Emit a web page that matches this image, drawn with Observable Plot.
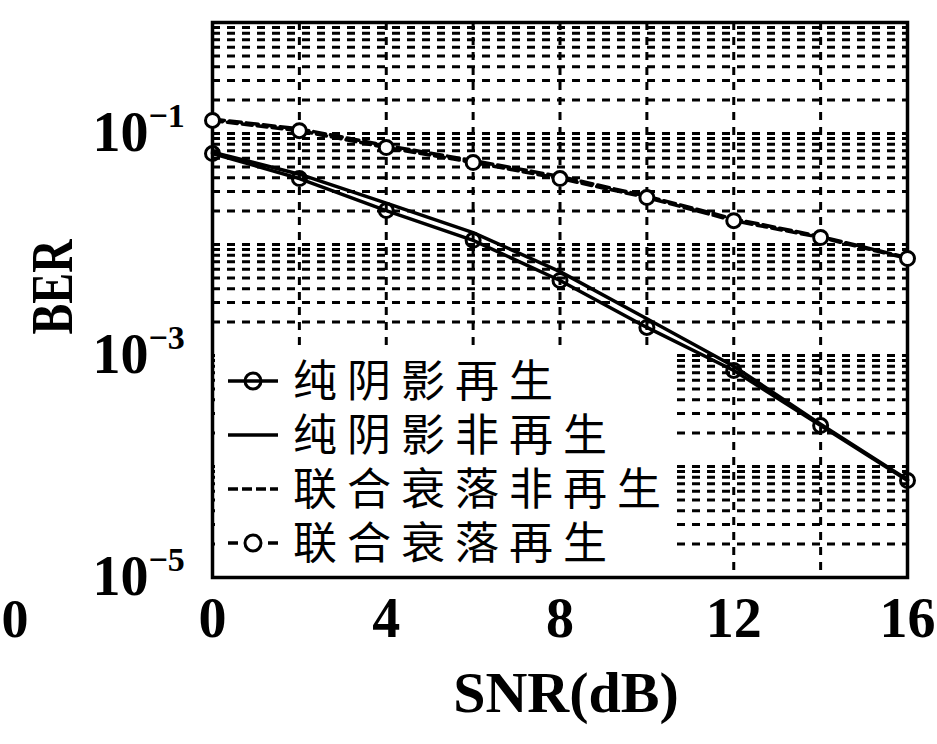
<!DOCTYPE html>
<html>
<head>
<meta charset="utf-8">
<script src="https://cdn.jsdelivr.net/npm/d3@7"></script>
<script src="https://cdn.jsdelivr.net/npm/@observablehq/plot@0.6"></script>
<style>
  html, body { margin: 0; padding: 0; background: #fff; }
  svg { display: block; }
</style>
</head>
<body>
<div id="chart"></div>
<script>
// ---- data ----
const snr = [0, 2, 4, 6, 8, 10, 12, 14, 16];
const berShadowRegen    = [0.066, 0.0393, 0.0202, 0.0109, 0.00474, 0.00179, 0.000733, 0.000234, 0.0000748];
const berShadowNonRegen = [0.068, 0.0430, 0.0236, 0.0128, 0.00570, 0.00214, 0.000800, 0.000240, 0.0000760];
const berFadingNonRegen = [0.135, 0.110, 0.078, 0.0570, 0.0410, 0.0272, 0.0170, 0.0118, 0.0076];
const berFadingRegen    = [0.131, 0.106, 0.0748, 0.0548, 0.0393, 0.0265, 0.0164, 0.01156, 0.00748];
const seriesNames = ["纯阴影再生", "纯阴影非再生", "联合衰落非再生", "联合衰落再生"];
const xTicks = [0, 4, 8, 12, 16];
const xGrid = [2, 4, 6, 8, 10, 12, 14];
const yTicks = [1e-5, 1e-3, 1e-1];
const yTickExponents = ["\u22125", "\u22123", "\u22121"];
const xLabel = "SNR(dB)";
const yLabel = "BER";

const seriesValues = [berShadowRegen, berShadowNonRegen, berFadingNonRegen, berFadingRegen];
const rows = [];
seriesNames.forEach((name, s) => snr.forEach((x, i) => rows.push({series: name, snr: x, ber: seriesValues[s][i]})));
const bySeries = name => rows.filter(r => r.series === name);

const yGrid = d3.scaleLog().domain([1e-5, 1]).ticks();

const serif = "Liberation Serif, Times New Roman, serif";
const black = "#000";

const plot = Plot.plot({
  width: 937,
  height: 744,
  marginLeft: 212,
  marginRight: 30,
  marginTop: 22,
  marginBottom: 167,
  style: {background: "#fff", fontFamily: serif, color: black},
  x: {domain: [0, 16], axis: null},
  y: {type: "log", domain: [1e-5, 1], axis: null},
  marks: [
    Plot.ruleY(yGrid, {y: d => d, stroke: black, strokeWidth: 3, strokeDasharray: "8,7"}),
    Plot.ruleX(xGrid, {x: d => d, stroke: black, strokeWidth: 3, strokeDasharray: "8,7"}),
    Plot.frame({stroke: black, strokeWidth: 3.5}),
    // curves
    Plot.line(bySeries(seriesNames[1]), {x: "snr", y: "ber", stroke: black, strokeWidth: 3.5}),
    Plot.line(bySeries(seriesNames[0]), {x: "snr", y: "ber", stroke: black, strokeWidth: 3.5}),
    Plot.dot(bySeries(seriesNames[0]), {x: "snr", y: "ber", r: 7, stroke: black, strokeWidth: 3, fill: "none"}),
    Plot.line(bySeries(seriesNames[2]), {x: "snr", y: "ber", stroke: black, strokeWidth: 3.5, strokeDasharray: "12,5"}),
    Plot.line(bySeries(seriesNames[3]), {x: "snr", y: "ber", stroke: black, strokeWidth: 3.5, strokeDasharray: "10,5"}),
    Plot.dot(bySeries(seriesNames[3]), {x: "snr", y: "ber", r: 7, stroke: black, strokeWidth: 3, fill: "#fff"}),
    // x tick labels
    Plot.text(xTicks, {x: d => d, frameAnchor: "bottom", dy: 59, text: d => String(d),
      fontSize: 56, fontWeight: "bold", fontFamily: serif, fill: black}),
    // y tick labels: base and superscript exponent
    Plot.text(yTicks, {y: d => d, frameAnchor: "left", dx: -64, textAnchor: "end", text: () => "10",
      fontSize: 56, fontWeight: "bold", fontFamily: serif, fill: black}),
    Plot.text(yTicks, {y: d => d, frameAnchor: "left", dx: -64, dy: -17, textAnchor: "start",
      text: (d, i) => yTickExponents[i], fontSize: 34, fontWeight: "bold", fontFamily: serif, fill: black}),
    // x axis label
    Plot.text([xLabel], {frameAnchor: "bottom", dx: 6, dy: 134, text: d => d,
      fontSize: 58, fontWeight: "bold", fontFamily: serif, fill: black}),
    // fragment of the neighbouring panel's tick label at the left edge
    Plot.text(["0"], {frameAnchor: "bottom-left", dx: -211, dy: 59, textAnchor: "start", text: d => d,
      fontSize: 54, fontWeight: "bold", fontFamily: serif, fill: black})
  ]
});

const svg = d3.select(plot);

// ---- y axis label ----
svg.append("text")
  .attr("transform", "translate(51,287) rotate(-90)")
  .attr("text-anchor", "middle").attr("dy", "0.35em")
  .attr("font-family", serif).attr("font-weight", "bold").attr("font-size", 60)
  .attr("textLength", 95).attr("lengthAdjust", "spacingAndGlyphs")
  .attr("fill", black).text(yLabel);

// ---- legend (inside the axes, lower-left, white box without border) ----
const lg = svg.append("g").attr("class", "legend");
lg.append("rect").attr("x", 215).attr("y", 347).attr("width", 461).attr("height", 228).attr("fill", "#fff");
const rowY = [381, 435, 489, 543];
const cjk = "Noto Sans CJK SC, sans-serif";
seriesNames.forEach((name, i) => {
  const y = rowY[i];
  const line = lg.append("line").attr("x1", 228).attr("x2", 278).attr("y1", y).attr("y2", y)
    .attr("stroke", black).attr("stroke-width", 3.5);
  if (i === 2) line.attr("stroke-dasharray", "10,4");
  if (i === 3) line.attr("stroke-dasharray", "10,30");
  if (i === 0) lg.append("circle").attr("cx", 253).attr("cy", y).attr("r", 8).attr("fill", "none").attr("stroke", black).attr("stroke-width", 3);
  if (i === 3) lg.append("circle").attr("cx", 253).attr("cy", y).attr("r", 8).attr("fill", "#fff").attr("stroke", black).attr("stroke-width", 3);
  lg.append("text").attr("x", 293).attr("y", y).attr("dy", "0.36em")
    .attr("text-anchor", "start")
    .attr("font-family", cjk).attr("font-size", 44).attr("letter-spacing", 10)
    .attr("fill", black).text(name);
});

document.getElementById("chart").appendChild(plot);
</script>
</body>
</html>
